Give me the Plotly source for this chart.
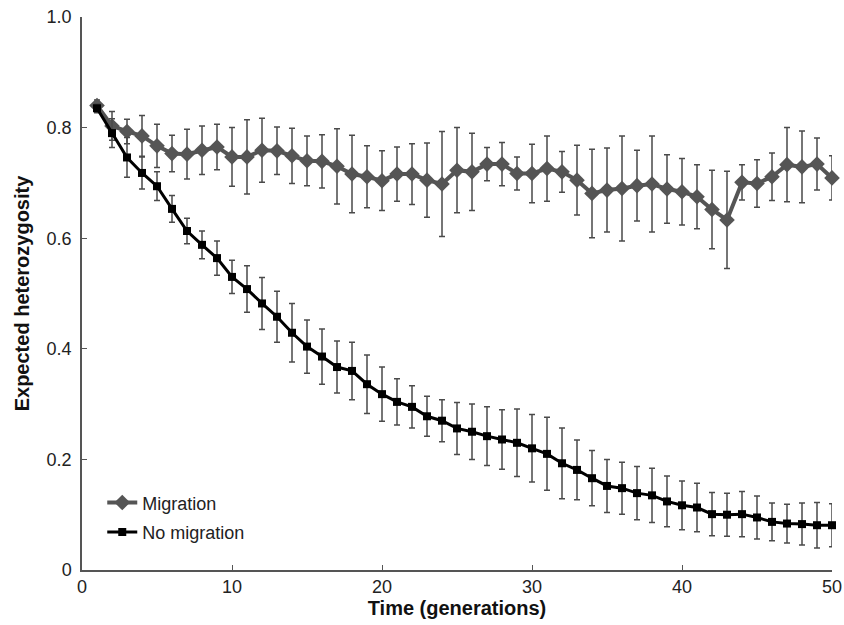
import plotly.graph_objects as go

generations = list(range(1, 51))

migration = [0.840, 0.803, 0.793, 0.785, 0.767, 0.753, 0.752, 0.759, 0.765, 0.747,
             0.747, 0.759, 0.758, 0.749, 0.740, 0.739, 0.730, 0.716, 0.711, 0.704,
             0.716, 0.716, 0.705, 0.698, 0.723, 0.720, 0.734, 0.734, 0.717, 0.717,
             0.726, 0.720, 0.705, 0.681, 0.687, 0.690, 0.695, 0.698, 0.689, 0.684,
             0.675, 0.652, 0.633, 0.701, 0.699, 0.711, 0.733, 0.729, 0.734, 0.709]
migration_err = [0.010, 0.026, 0.022, 0.037, 0.039, 0.033, 0.045, 0.044, 0.041, 0.053,
                 0.067, 0.058, 0.043, 0.050, 0.045, 0.048, 0.068, 0.070, 0.056, 0.054,
                 0.049, 0.055, 0.067, 0.095, 0.077, 0.070, 0.030, 0.039, 0.030, 0.053,
                 0.059, 0.037, 0.063, 0.080, 0.076, 0.095, 0.064, 0.087, 0.062, 0.060,
                 0.058, 0.071, 0.088, 0.032, 0.043, 0.043, 0.067, 0.065, 0.047, 0.040]

no_migration = [0.835, 0.790, 0.746, 0.718, 0.694, 0.653, 0.613, 0.588, 0.564, 0.530,
                0.508, 0.482, 0.458, 0.429, 0.404, 0.386, 0.367, 0.360, 0.336, 0.318,
                0.304, 0.295, 0.278, 0.270, 0.256, 0.250, 0.242, 0.236, 0.230, 0.220,
                0.210, 0.193, 0.181, 0.166, 0.152, 0.148, 0.139, 0.135, 0.124, 0.117,
                0.113, 0.101, 0.100, 0.101, 0.095, 0.087, 0.084, 0.083, 0.081, 0.081]
no_migration_err = [0.008, 0.026, 0.036, 0.029, 0.026, 0.024, 0.023, 0.025, 0.031, 0.030,
                    0.042, 0.047, 0.046, 0.053, 0.048, 0.050, 0.047, 0.052, 0.053, 0.049,
                    0.042, 0.038, 0.036, 0.038, 0.047, 0.050, 0.053, 0.054, 0.061, 0.061,
                    0.066, 0.064, 0.054, 0.050, 0.048, 0.047, 0.048, 0.049, 0.046, 0.044,
                    0.044, 0.039, 0.039, 0.041, 0.039, 0.034, 0.035, 0.038, 0.041, 0.039]

x_ticks = [0, 10, 20, 30, 40, 50]
y_ticks = [0, 0.2, 0.4, 0.6, 0.8, 1.0]
y_ticktext = ["0", "0.2", "0.4", "0.6", "0.8", "1.0"]

fig = go.Figure()

fig.add_trace(go.Scatter(
    x=generations, y=migration, name="Migration", mode="lines+markers",
    legendgroup="m",
    line=dict(color="#555555", width=4),
    marker=dict(symbol="diamond", size=12, color="#555555"),
    error_y=dict(type="data", array=migration_err, color="#4a4a4a", thickness=1.5, width=3),
    cliponaxis=False,
))
fig.add_trace(go.Scatter(
    x=generations, y=no_migration, name="No migration", mode="lines+markers",
    legendgroup="n",
    line=dict(color="#000000", width=3),
    marker=dict(symbol="square", size=8, color="#000000"),
    error_y=dict(type="data", array=no_migration_err, color="#4a4a4a", thickness=1.5, width=3),
    cliponaxis=False,
))

fig.update_layout(
    width=844, height=625,
    margin=dict(l=82, r=12, t=17, b=55),
    plot_bgcolor="white", paper_bgcolor="white",
    font=dict(family="Liberation Sans, Arial, sans-serif", size=18, color="#222222"),
    showlegend=True,
    legend=dict(x=0.027, y=0.155, xanchor="left", yanchor="top",
                traceorder="grouped", tracegroupgap=3, bgcolor="rgba(0,0,0,0)",
                font=dict(size=18, color="#222222")),
    xaxis=dict(
        range=[0, 50], tickvals=x_ticks, ticktext=[str(t) for t in x_ticks],
        showgrid=False, zeroline=False, showline=True, linecolor="#555555", linewidth=1.5,
        ticks="inside", ticklen=5, tickcolor="#555555", automargin=False,
        ticklabelstandoff=0, ticklabeloverflow="allow",
        title=dict(text="<b>Time (generations)</b>", font=dict(size=20, color="#111111"), standoff=0),
    ),
    yaxis=dict(
        range=[0, 1.0], tickvals=y_ticks, ticktext=y_ticktext,
        showgrid=False, zeroline=False, showline=True, linecolor="#555555", linewidth=1.5,
        ticks="inside", ticklen=5, tickcolor="#555555", automargin=False,
        ticklabelstandoff=5, ticklabeloverflow="allow",
        title=dict(text="<b>Expected heterozygosity</b>", font=dict(size=20, color="#111111"), standoff=12),
    ),
)

fig.write_html("out.html", config={"displayModeBar": False},
               post_script="document.body.style.margin='0';document.body.style.overflow='hidden';")
